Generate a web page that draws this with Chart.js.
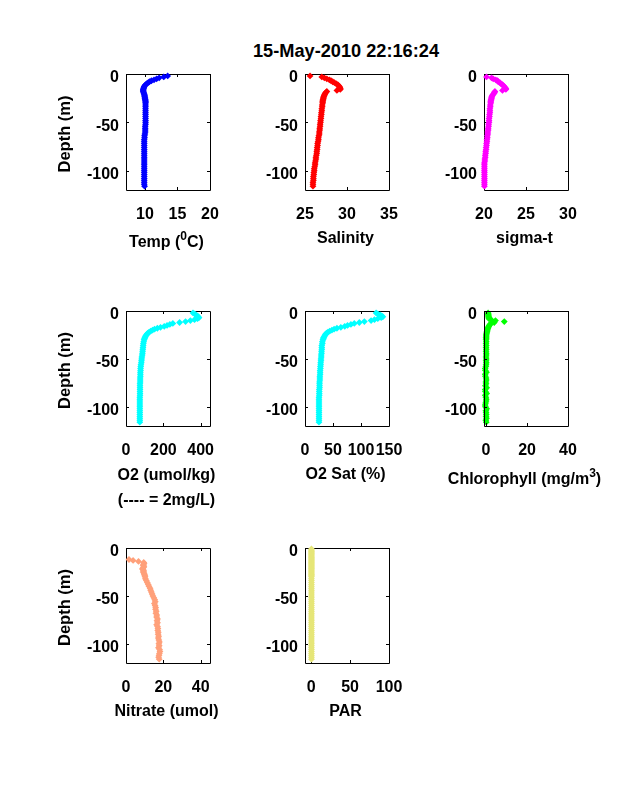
<!DOCTYPE html>
<html>
<head>
<meta charset="utf-8">
<script src="https://cdn.jsdelivr.net/npm/chart.js@4"></script>
<style>
  body { margin: 0; background: #fff; }
  canvas { position: absolute; }
  #titre { position: absolute; left: 146px; top: 41px; width: 400px; text-align: center;
           font: bold 18.2px "Liberation Sans"; color: #000; }
</style>
</head>
<body>
<div id="titre">15-May-2010 22:16:24</div>
<script>
// depth of each sample (m), same for every panel
const depth = [
  -1,-2,-3,-4,-5,-6,-7,-8,-9,-10,
  -11,-12,-13,-14,-15,-16,-17,-18,-19,-20,
  -21,-22,-23,-24,-25,-26,-27,-28,-29,-30,
  -32,-34,-36,-38,-40,-42,-44,-46,-48,-50,
  -52,-54,-56,-58,-60,-62,-64,-66,-68,-70,
  -72,-74,-76,-78,-80,-82,-84,-86,-88,-90,
  -92,-94,-96,-98,-100,-102,-104,-106,-108,-110,-112,-114,-116
]

const temp = [
  null,13.5,12.9,12.2,11.8,11.4,11.0,10.7,10.5,10.3,
  10.1,10.0,9.9,9.85,9.8,9.75,9.75,9.75,9.8,9.85,
  9.9,9.95,9.95,10,10,10.05,10.05,10.1,10.1,10.1,
  10.1,10.1,10.1,10.1,10.1,10.1,10.1,10.1,10.1,10.1,
  10.1,10.05,10.05,10.05,10.05,10,9.95,9.95,9.9,9.9,
  9.9,9.9,9.9,9.9,9.9,9.9,9.9,9.9,9.9,9.9,
  9.9,9.9,9.9,9.9,9.9,9.9,9.9,9.9,9.9,9.9,9.9,9.9,9.95
]
const salinity = [
  null,25.6,27.0,27.3,27.6,27.9,28.1,28.3,28.5,28.7,
  28.9,29.0,29.1,29.15,29.2,29.2,28.8,27.6,27.5,27.4,
  27.35,27.3,27.25,27.2,27.2,27.15,27.15,27.1,27.1,27.1,
  27.05,27.05,27.0,27.0,26.95,26.95,26.9,26.9,26.85,26.85,
  26.8,26.8,26.75,26.75,26.7,26.7,26.65,26.6,26.6,26.55,
  26.5,26.5,26.45,26.45,26.4,26.4,26.35,26.3,26.3,26.25,
  26.2,26.2,26.15,26.1,26.1,26.05,26.05,26.0,26.0,26.0,25.95,25.95,25.95
]
const sigma = [
  null,null,20.3,20.9,21.1,21.4,21.6,21.7,21.9,22.0,
  22.2,22.3,22.4,22.5,22.6,22.6,22.2,21.3,21.25,21.2,
  21.1,21.0,20.95,20.9,20.9,20.85,20.85,20.8,20.8,20.8,
  20.75,20.75,20.7,20.7,20.7,20.65,20.65,20.6,20.6,20.6,
  20.55,20.55,20.5,20.5,20.45,20.45,20.4,20.4,20.35,20.35,
  20.3,20.3,20.25,20.25,20.2,20.2,20.15,20.15,20.1,20.1,
  20.05,20.05,20.05,20.05,20.05,20.05,20.05,20.05,20.05,20.05,20.05,20.05,20.05
]
const o2 = [
  null,359,368,375,381,387,391,383,367,345,
  319,287,251,235,220,205,185,168,153,142,
  132,124,118,113,109,105,103,101,99,97,
  95,93,92,91,90,89,88,87,85,84,
  83,82,80,79,78,78,77,77,77,76,
  76,76,75,75,75,75,75,75,75,74,
  74,74,74,74,74,74,74,74,74,74,74,74,74
]
const o2sat = [
  null,127,130,134,137,139,136,130,124,118,
  106,97,88,82,76,71,64,57,52,48,
  44,41,39,37,36,35,34,33,33,32,
  31,31,30,30,30,29.5,29.5,29,29,28.5,
  28.5,28,28,27.5,27.5,27,27,27,26.5,26.5,
  26.5,26,26,26,26,25.5,25.5,25.5,25.5,25,
  25,25,25,25,25,25,25,25,25,25,25,25,25
]
const chloro = [
  null,1.0,1.1,1.1,1.2,1.2,1.3,1.4,2.5,4.6,
  8.9,4.0,2.4,1.9,1.6,1.3,1.1,0.9,0.7,0.6,
  0.5,0.4,0.3,0.2,0.1,0.1,0.1,0,0.1,0,
  0.1,0,0.1,0,0.1,0,0.1,0.1,0,0.1,
  0,0.1,0,-0.1,-0.4,-0.3,0.2,-0.4,-0.3,0,
  0.1,-0.1,0,-0.3,0.3,-0.4,-0.3,0.3,-0.4,-0.1,
  0.1,0,-0.2,-0.4,-0.3,0.3,-0.1,0,0.1,0,0.2,-0.1,0.1
]
const nitrate = [
  null,null,null,null,null,null,null,null,null,null,
  null,1.6,3.8,6.7,9.5,9.7,9.4,9.2,9.6,9.5,
  9.0,8.8,9.3,9.5,9.2,9.6,9.8,9.9,10.1,10.2,
  10.4,10.9,11.4,11.9,12.3,12.9,13.2,13.6,14.0,14.4,
  14.9,15.4,15.7,15.2,15.6,15.9,15.8,16.2,16.0,16.5,
  16.4,16.9,16.6,16.9,16.4,16.9,17.1,17.0,17.3,17.2,
  17.5,17.3,17.6,17.9,17.6,17.8,17.4,18.0,18.2,17.9,17.7,17.5,17.8
]
const par = [
  0.3,0.3,0.3,0.3,0.3,0.3,0.3,0.3,0.3,0.3,
  0.3,0.3,0.3,0.3,0.3,0.3,0.3,0.3,0.3,0.3,
  0.3,0.3,0.3,0.3,0.3,0.3,0.3,0.3,0.3,0.3,
  0.3,0.3,0.3,0.3,0.3,0.3,0.3,0.3,0.3,0.3,
  0.3,0.3,0.3,0.3,0.3,0.3,0.3,0.3,0.3,0.3,
  0.3,0.3,0.3,0.3,0.3,0.3,0.3,0.3,0.3,0.3,
  0.3,0.3,0.3,0.3,0.3,0.3,0.3,0.3,0.3,0.3,0.3,0.3,0.3
]

const depth_ticks = [-100, -50, 0]
const colonnes = [126, 305, 484]
const lignes = [74, 311, 548]
const hauteurs = [116, 115, 115]
const largeur = 84
const police = '"Liberation Sans"'

// box and inward ticks on the four sides
const cadre = {
  id: 'cadre',
  beforeDatasetsDraw(chart, args, opts) { if (!opts.dessus) trace_cadre(chart) },
  afterDatasetsDraw(chart, args, opts) { if (opts.dessus) trace_cadre(chart) },
  afterDraw(chart, args, opts) { trace_titres(chart, opts) }
}

function trace_cadre(chart) {
  const { ctx, chartArea: a, scales } = chart
  ctx.save()
  ctx.strokeStyle = '#000'
  ctx.lineWidth = 1
  ctx.beginPath()
  ctx.rect(a.left + 0.5, a.top + 0.5, a.right - a.left, a.bottom - a.top)
  for (const t of scales.x.ticks) {
    const px = Math.round(scales.x.getPixelForValue(t.value)) + 0.5
    ctx.moveTo(px, a.bottom); ctx.lineTo(px, a.bottom - 3)
    ctx.moveTo(px, a.top); ctx.lineTo(px, a.top + 3)
  }
  for (const t of scales.y.ticks) {
    const py = Math.round(scales.y.getPixelForValue(t.value)) + 0.5
    ctx.moveTo(a.left, py); ctx.lineTo(a.left + 3, py)
    ctx.moveTo(a.right, py); ctx.lineTo(a.right - 3, py)
  }
  ctx.stroke()
  ctx.restore()
}

// one title line, text between ^ goes up as an exponent
function ligne_titre(ctx, texte, cx, y) {
  const morceaux = texte.split('^')
  const fonte = i => (i % 2 ? 'bold 12px ' : 'bold 16px ') + police
  let total = 0
  morceaux.forEach((m, i) => { ctx.font = fonte(i); total += ctx.measureText(m).width })
  let x = cx - total / 2
  ctx.textAlign = 'left'
  morceaux.forEach((m, i) => {
    ctx.font = fonte(i)
    ctx.fillText(m, x, i % 2 ? y - 6 : y)
    x += ctx.measureText(m).width
  })
}

// axis titles: the scale's own title gets squeezed to the width of the box
function trace_titres(chart, opts) {
  const { ctx, chartArea: a } = chart
  const cx = (a.left + a.right) / 2 - 1.5
  ctx.save()
  ctx.fillStyle = '#000'
  ctx.textBaseline = 'middle'
  opts.titre.forEach((t, i) => ligne_titre(ctx, t, cx, a.bottom + opts.ecart + i * 25))
  if (opts.depth) {
    ctx.translate(a.left - 60.5, (a.top + a.bottom) / 2 + 2)
    ctx.rotate(-Math.PI / 2)
    ctx.textAlign = 'center'
    ctx.font = 'bold 16.5px ' + police
    ctx.fillText('Depth (m)', 0, 0)
  }
  ctx.restore()
}

function sans_marges(s) {
  s.paddingTop = 0
  s.paddingBottom = 0
  s.paddingLeft = 0
  s.paddingRight = 0
}

function panneau(p) {
  const canvas = document.createElement('canvas')
  const marge_g = 69, marge_d = 45, marge_h = 12, marge_b = 90
  const hauteur = hauteurs[p.row]
  canvas.width = largeur + marge_g + marge_d
  canvas.height = hauteur + marge_h + marge_b
  canvas.style.left = (colonnes[p.col] - marge_g) + 'px'
  canvas.style.top = (lignes[p.row] - marge_h) + 'px'
  document.body.appendChild(canvas)

  const points = []
  p.valeurs.forEach((v, i) => { if (v !== null) points.push({ x: v, y: depth[i] }) })

  new Chart(canvas, {
    type: 'scatter',
    data: { datasets: [{
      data: points,
      showLine: false,
      clip: false,
      backgroundColor: p.couleur,
      borderWidth: 0,
      pointStyle: 'rectRot',
      pointRadius: 3.4
    }] },
    options: {
      responsive: false,
      animation: false,
      devicePixelRatio: 1,
      events: [],
      layout: { padding: { left: 0, right: marge_d, top: marge_h, bottom: 0 }, autoPadding: false },
      plugins: {
        legend: { display: false },
        tooltip: { enabled: false },
        cadre: { dessus: !!p.dessus, titre: p.titre, ecart: p.ecart, depth: p.col === 0 }
      },
      scales: {
        x: {
          type: 'linear', min: p.min, max: p.max,
          grid: { display: false, drawTicks: false }, border: { display: false },
          afterBuildTicks: s => { s.ticks = p.ticks.map(v => ({ value: v })) },
          afterFit: s => { s.height = marge_b; sans_marges(s) },
          ticks: { autoSkip: false, maxRotation: 0, minRotation: 0, padding: 15, color: '#000',
                   font: { family: police, size: 16, weight: 'bold' } }
        },
        y: {
          type: 'linear', min: -120, max: 0,
          grid: { display: false, drawTicks: false }, border: { display: false },
          afterBuildTicks: s => { s.ticks = depth_ticks.map(v => ({ value: v })) },
          afterFit: s => { s.width = marge_g; sans_marges(s) },
          ticks: { autoSkip: false, padding: 7, labelOffset: 4, color: '#000',
                   font: { family: police, size: 16, weight: 'bold' } }
        }
      }
    },
    plugins: [cadre]
  })
}

const panneaux = [
  { col: 0, row: 0, valeurs: temp, couleur: '#0000ff', min: 7.1, max: 20, ticks: [10, 15, 20], titre: ['Temp (^0^C)'], ecart: 52.5 },
  { col: 1, row: 0, valeurs: salinity, couleur: '#ff0000', min: 25, max: 35, ticks: [25, 30, 35], titre: ['Salinity'], ecart: 48.5 },
  { col: 2, row: 0, valeurs: sigma, couleur: '#ff00ff', min: 20, max: 30, ticks: [20, 25, 30], titre: ['sigma-t'], ecart: 48.5 },
  { col: 0, row: 1, valeurs: o2, couleur: '#00ffff', min: 0, max: 450, ticks: [0, 200, 400], titre: ['O2 (umol/kg)', '(---- = 2mg/L)'], ecart: 49.5 },
  { col: 1, row: 1, valeurs: o2sat, couleur: '#00ffff', min: 0, max: 150, ticks: [0, 50, 100, 150], titre: ['O2 Sat (%)'], ecart: 48.5 },
  { col: 2, row: 1, valeurs: chloro, couleur: '#00ff00', min: -1, max: 40, ticks: [0, 20, 40], titre: ['Chlorophyll (mg/m^3^)'], ecart: 53.5, dessus: true },
  { col: 0, row: 2, valeurs: nitrate, couleur: '#ffa07a', min: 0, max: 45, ticks: [0, 20, 40], titre: ['Nitrate (umol)'], ecart: 48.5 },
  { col: 1, row: 2, valeurs: par, couleur: '#e6e678', min: -8, max: 100, ticks: [0, 50, 100], titre: ['PAR'], ecart: 48.5 }
]

panneaux.forEach(panneau)
</script>
</body>
</html>
